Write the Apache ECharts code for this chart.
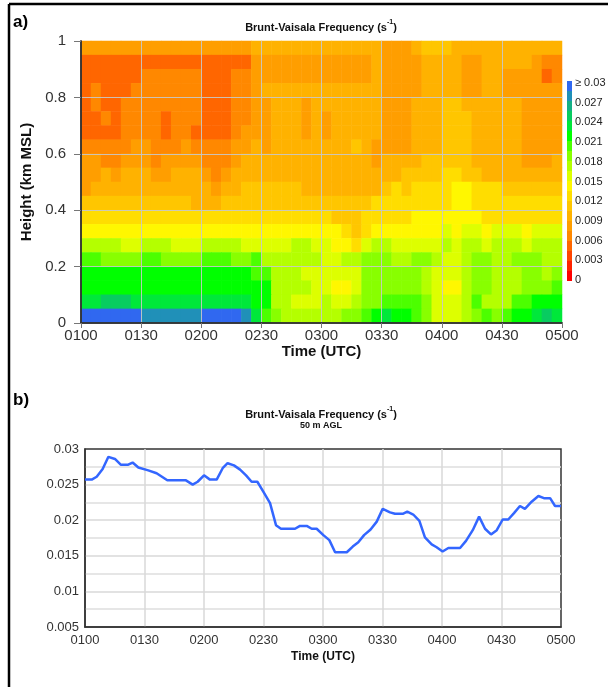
<!DOCTYPE html>
<html><head><meta charset="utf-8">
<script src="https://cdn.jsdelivr.net/npm/echarts@6/dist/echarts.min.js"></script>
<style>html,body{margin:0;padding:0;background:#fff}#c{width:608px;height:687px}</style>
</head><body><div id="c"></div>
<script>
// ---------- DATA ----------
const timeTickLabels = ['0100','0130','0200','0230','0300','0330','0400','0430','0500'];
// contour grid cells (5-min columns, 0.05 km rows)
const timeCells = ['0100','0105','0110','0115','0120','0125','0130','0135','0140','0145','0150','0155',
  '0200','0205','0210','0215','0220','0225','0230','0235','0240','0245','0250','0255',
  '0300','0305','0310','0315','0320','0325','0330','0335','0340','0345','0350','0355',
  '0400','0405','0410','0415','0420','0425','0430','0435','0440','0445','0450','0455'];
const heightCells = ['0.00','0.05','0.10','0.15','0.20','0.25','0.30','0.35','0.40','0.45',
  '0.50','0.55','0.60','0.65','0.70','0.75','0.80','0.85','0.90','0.95'];
// Brunt-Vaisala frequency, units of 0.001 s^-1; rows from top (0.95-1.00 km) down to bottom (0.00-0.05 km)
const bvRowsTopDown = [
 [8,8,8,8,8,8, 8,8,8,8,8,8, 8,8,8,8,8,10, 10,10,10,10,10,10, 10,10,10,10,10,10, 8,8,8,10,11,11, 11,10,10,10,10,10, 10,10,10,10,10,10],
 [5,5,5,5,5,5, 5,5,5,5,5,5, 5,5,5,5,5,8, 8,8,8,8,8,8, 8,8,8,8,8,10, 8,8,8,8,10,10, 10,10,8,8,10,10, 10,10,10,8,7,7],
 [5,5,5,5,5,5, 7,7,7,7,7,7, 5,5,5,7,7,8, 8,8,8,8,8,8, 8,8,8,8,8,10, 8,8,8,8,10,10, 10,10,8,8,10,10, 8,8,8,8,5,7],
 [5,7,5,5,5,7, 7,7,7,7,7,7, 5,5,5,7,7,8, 10,10,10,10,10,10, 10,10,10,10,10,10, 8,8,8,8,10,10, 10,10,8,8,10,10, 8,8,8,8,8,8],
 [5,7,5,5,7,7, 7,7,7,7,7,7, 5,5,5,7,7,8, 8,10,10,10,8,10, 10,10,10,10,10,10, 8,8,8,10,10,10, 11,11,10,10,10,10, 10,10,8,8,8,8],
 [5,5,7,5,7,7, 7,7,5,7,7,7, 5,5,5,7,7,8, 8,10,10,10,8,10, 8,10,10,10,10,10, 8,8,8,10,10,10, 11,11,11,10,10,10, 10,10,8,8,8,8],
 [5,5,5,5,7,7, 7,7,5,7,7,5, 5,5,5,7,8,8, 8,10,10,10,8,10, 8,10,10,10,10,10, 8,8,8,10,10,10, 11,11,11,10,10,10, 10,10,8,8,8,8],
 [7,7,7,7,7,8, 8,7,7,7,8,7, 7,7,7,8,8,10, 8,10,10,10,10,10, 10,10,10,11,10,8, 8,8,8,10,10,10, 11,11,11,10,10,10, 10,10,8,8,8,8],
 [8,8,7,7,8,8, 8,7,8,8,8,8, 7,7,7,8,10,10, 10,10,10,10,10,10, 10,10,10,10,10,8, 10,10,10,10,11,11, 11,11,11,10,10,10, 10,10,8,8,8,10],
 [8,8,10,8,10,10, 10,8,8,10,10,10, 8,7,8,10,10,10, 10,10,10,10,10,10, 10,10,10,10,10,10, 10,10,11,11,11,11, 13,13,11,11,10,10, 10,10,10,10,10,10],
 [8,10,10,10,10,10, 10,10,10,10,10,10, 10,8,10,10,11,11, 11,11,11,11,10,10, 10,10,10,10,10,10, 11,13,11,13,13,13, 13,14,14,13,13,13, 11,11,11,11,11,11],
 [11,11,11,11,11,11, 11,11,11,11,11,10, 10,10,11,11,11,11, 11,11,11,11,11,11, 11,11,11,11,11,13, 13,13,13,13,13,13, 13,14,14,13,13,13, 13,13,13,13,13,13],
 [13,13,13,13,13,13, 13,13,13,13,13,13, 13,13,13,13,13,13, 13,13,13,13,13,13, 13,11,11,11,13,13, 13,13,13,14,14,14, 14,14,14,14,13,13, 13,13,13,13,13,13],
 [14,14,14,14,14,14, 14,14,14,14,14,14, 14,14,14,14,14,14, 14,14,14,14,14,14, 14,14,13,11,13,14, 14,14,14,14,14,14, 16,14,16,16,14,16, 16,16,14,16,16,16],
 [17,17,17,17,16,16, 17,17,17,16,16,16, 17,17,17,17,16,16, 16,16,16,17,17,16, 16,14,14,13,16,17, 17,16,16,16,16,16, 17,16,17,17,16,17, 17,17,16,17,17,17],
 [20,20,19,19,19,19, 20,20,19,19,19,19, 20,20,20,19,19,20, 17,17,17,17,17,17, 16,16,17,17,19,19, 19,17,17,19,19,17, 16,16,17,19,19,17, 17,19,19,19,17,17],
 [22,22,22,22,22,22, 22,22,22,22,22,22, 22,22,22,22,22,20, 20,17,17,17,16,16, 16,16,16,16,19,19, 19,19,19,19,17,16, 16,16,17,19,19,17, 17,17,19,19,17,19],
 [22,22,22,22,22,22, 22,22,22,22,22,22, 22,22,22,22,22,22, 22,17,17,17,17,16, 16,14,14,16,19,19, 19,19,19,19,17,16, 14,14,17,19,19,17, 17,17,19,19,19,20],
 [23,23,25,25,25,23, 23,23,23,23,23,23, 23,23,23,23,23,22, 22,17,17,16,16,16, 17,16,16,17,19,19, 20,20,20,20,19,16, 16,16,17,20,17,17, 17,20,20,22,22,22],
 [30,30,30,30,30,30, 28,28,28,28,28,28, 30,30,30,30,28,23, 20,19,17,17,17,17, 17,17,19,19,20,22, 23,22,22,20,19,16, 16,16,17,19,20,19, 20,22,22,23,25,23]
];
// contour level breaks (0.001 s^-1) and colour-bar labels
const levelBreaks = [0,1.5,3,4.5,6,7.5,9,10.5,12,13.5,15,16.5,18,19.5,21,22.5,24,25.5,27,28.5];
const colorbarLabels = ['\u2265 0.03','0.027','0.024','0.021','0.018','0.015','0.012','0.009','0.006','0.003','0'];
// panel b: 50 m AGL series (minutes after 0100 UTC, s^-1)
const lineMinutes = [0,3.4,5.9,8.9,11.8,15.1,18,21.8,24,26.9,31.9,36.1,41.5,50.9,54.3,56.8,60,63,66.4,69.4,
  71.9,75.1,78.2,81.2,84,86.9,89.9,93.3,96.3,98.8,105.9,108.4,111.8,114.3,116.8,120.2,123.2,126.1,132,135,
  137.8,140.7,144,147.1,150.1,153.8,156.3,160.2,162.5,165.5,168.6,171.4,174.8,177.3,180.3,183.2,189.1,192.1,195.5,198.7,
  201.7,204.7,207.6,210.6,213.4,216.3,219.3,221.8,225.2,228.6,231.4,234.5,237,240];
const lineValues = [0.0257,0.0257,0.0261,0.0272,0.0289,0.0286,0.0278,0.0278,0.0281,0.0274,0.0270,0.0266,0.0256,0.0256,0.0250,0.0254,0.0263,0.0257,0.0257,0.0273,
  0.0280,0.0277,0.0271,0.0263,0.0254,0.0254,0.0240,0.0224,0.0193,0.0188,0.0188,0.0192,0.0192,0.0188,0.0188,0.0179,0.0172,0.0155,0.0155,0.0163,
  0.0169,0.0179,0.0187,0.0198,0.0216,0.0211,0.0209,0.0209,0.0212,0.0208,0.0199,0.0176,0.0166,0.0162,0.0156,0.0161,0.0161,0.0171,0.0186,0.0205,
  0.0188,0.0180,0.0186,0.0201,0.0201,0.0210,0.0220,0.0216,0.0226,0.0234,0.0231,0.0231,0.0220,0.0220];

// ---------- STYLE ----------
const levelColors = ['#ff0000','#ff2200','#ff4400','#ff6600','#ff8800','#ff9e00','#ffb200','#ffc600','#ffdd00','#fff700',
  '#ddff00','#b4ff00','#88ff00','#4cff00','#00ff00','#00e83a','#08cc60','#14b085','#2090b8','#3068f0'];
const FF = 'Liberation Sans, Arial, sans-serif';

const heatData = [];
bvRowsTopDown.forEach((row, i) => {
  const r = heightCells.length - 1 - i;
  row.forEach((v, c) => heatData.push([c, r, v]));
});
const pieces = levelBreaks.map((b, k) => k < levelBreaks.length - 1
  ? {gte: b, lt: levelBreaks[k + 1], color: levelColors[k]}
  : {gte: b, color: levelColors[k]});
const lineData = lineMinutes.map((t, i) => [t, lineValues[i]]);
const tickFmt = v => timeTickLabels[Math.round(v / 30)];

const frameAxis = {axisLine:{show:true,lineStyle:{color:'#333',width:1.5}},axisTick:{show:false},axisLabel:{show:false},splitLine:{show:false},z:4};

const chart = echarts.init(document.getElementById('c'), null, {renderer:'canvas'});
const graphics = [
  {type:'line', shape:{x1:9,y1:4,x2:608,y2:4}, style:{stroke:'#000',lineWidth:2.5}},
  {type:'line', shape:{x1:9,y1:4,x2:9,y2:687}, style:{stroke:'#000',lineWidth:2.5}},
  {type:'text', x:13, y:22, style:{text:'a)', fontSize:17, fontWeight:'bold', fontFamily:FF, fill:'#000', verticalAlign:'middle'}},
  {type:'text', x:13, y:400, style:{text:'b)', fontSize:17, fontWeight:'bold', fontFamily:FF, fill:'#000', verticalAlign:'middle'}},
  {type:'text', x:321, y:26, style:{text:'{b|Brunt-Vaisala Frequency (s}{p|-1}{b|)}', align:'center', verticalAlign:'middle',
     rich:{b:{fontSize:11,fontWeight:'bold',fontFamily:FF,fill:'#111',lineHeight:14,verticalAlign:'bottom'},
           p:{fontSize:7,fontWeight:'bold',fontFamily:FF,fill:'#111',lineHeight:14,verticalAlign:'top'}}}},
  {type:'text', x:321, y:413, style:{text:'{b|Brunt-Vaisala Frequency (s}{p|-1}{b|)}', align:'center', verticalAlign:'middle',
     rich:{b:{fontSize:11,fontWeight:'bold',fontFamily:FF,fill:'#111',lineHeight:14,verticalAlign:'bottom'},
           p:{fontSize:7,fontWeight:'bold',fontFamily:FF,fill:'#111',lineHeight:14,verticalAlign:'top'}}}},
  {type:'text', x:321, y:426, style:{text:'50 m AGL', fontSize:9, fontWeight:'bold', fontFamily:FF, fill:'#111', align:'center', verticalAlign:'middle'}}
];
colorbarLabels.forEach((t, i) => graphics.push({type:'text', x:575, y:83 + i * 19.7,
  style:{text:t, fontSize:11, fontFamily:FF, fill:'#222', verticalAlign:'middle'}}));

chart.setOption({
  animation:false,
  backgroundColor:'#fff',
  grid:[
    {left:81, top:41, width:481, height:282, show:false},
    {left:85, top:449, width:476, height:178, show:true, borderColor:'#333', borderWidth:1.5, backgroundColor:'transparent'}
  ],
  xAxis:[
    Object.assign({type:'category', gridIndex:0, position:'top', data:timeCells}, frameAxis),
    {type:'value', gridIndex:0, position:'bottom', min:0, max:240, interval:30, z:4,
     axisLine:{show:true,lineStyle:{color:'#333',width:1.5}},
     axisTick:{show:true,length:5,lineStyle:{color:'#777'}},
     axisLabel:{formatter:tickFmt, fontSize:15, color:'#333', fontFamily:FF, margin:5},
     splitLine:{show:true, showMinLine:false, showMaxLine:false, lineStyle:{color:'rgba(200,200,200,0.9)',width:1}},
     name:'Time (UTC)', nameLocation:'middle', nameGap:20,
     nameTextStyle:{fontSize:15, fontWeight:'bold', color:'#111', fontFamily:FF}},
    {type:'value', gridIndex:1, min:0, max:240, interval:30,
     axisLine:{show:true,lineStyle:{color:'#333',width:1.5}},
     axisTick:{show:false},
     axisLabel:{formatter:tickFmt, fontSize:13, color:'#333', fontFamily:FF, margin:7},
     splitLine:{show:true, showMinLine:false, showMaxLine:false, lineStyle:{color:'#d8d8d8',width:1.5}},
     name:'Time (UTC)', nameLocation:'middle', nameGap:24,
     nameTextStyle:{fontSize:12, fontWeight:'bold', color:'#111', fontFamily:FF}}
  ],
  yAxis:[
    Object.assign({type:'category', gridIndex:0, position:'right', data:heightCells}, frameAxis),
    {type:'value', gridIndex:0, position:'left', min:0, max:1, interval:0.2, z:4,
     axisLine:{show:true,lineStyle:{color:'#333',width:1.5}},
     axisTick:{show:true,length:7,lineStyle:{color:'#777'}},
     axisLabel:{fontSize:15, color:'#333', fontFamily:FF, margin:15},
     splitLine:{show:true, showMinLine:false, showMaxLine:false, lineStyle:{color:'rgba(200,200,200,0.9)',width:1}},
     name:'Height (km MSL)', nameLocation:'middle', nameGap:45,
     nameTextStyle:{fontSize:15, fontWeight:'bold', color:'#111', fontFamily:FF}},
    {type:'value', gridIndex:1, min:0.005, max:0.03, interval:0.005,
     axisLine:{show:true,lineStyle:{color:'#333',width:1.5}},
     axisTick:{show:false},
     minorTick:{show:false, splitNumber:2},
     minorSplitLine:{show:true, lineStyle:{color:'#dedede',width:1.5}},
     axisLabel:{fontSize:13, color:'#333', fontFamily:FF, margin:6},
     splitLine:{show:true, showMinLine:false, showMaxLine:false, lineStyle:{color:'#d8d8d8',width:1.5}}}
  ],
  visualMap:[{type:'piecewise', seriesIndex:0, pieces:pieces, orient:'vertical', left:567, top:81, padding:0,
    itemWidth:5, itemHeight:10, itemGap:0, itemSymbol:'rect', showLabel:false, selectedMode:false, hoverLink:false}],
  series:[
    {type:'heatmap', xAxisIndex:0, yAxisIndex:0, data:heatData, z:2, emphasis:{disabled:true}, itemStyle:{borderWidth:0}},
    {type:'line', xAxisIndex:2, yAxisIndex:2, data:lineData, showSymbol:false, z:3,
     lineStyle:{color:'#3366ff', width:2.5}, itemStyle:{color:'#3366ff'}}
  ],
  graphic:graphics
});
</script></body></html>
